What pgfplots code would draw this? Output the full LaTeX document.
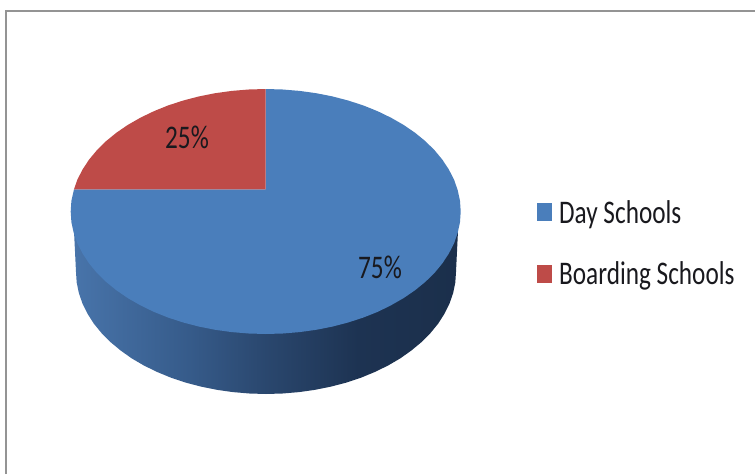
\documentclass[border=0pt]{standalone}
\usepackage{fontspec}
\setmainfont{Carlito}
\usepackage{graphicx}
\usepackage{pgfplots}
\pgfplotsset{compat=1.18}
\definecolor{dayblue}{RGB}{74,126,187}
\definecolor{boardred}{RGB}{190,75,72}
\definecolor{txt}{RGB}{25,25,30}
\definecolor{sa}{RGB}{72,116,170}
\definecolor{sb}{RGB}{54,91,138}
\definecolor{sc}{RGB}{42,71,110}
\definecolor{sd}{RGB}{29,51,82}
\definecolor{se}{RGB}{27,47,75}
\pgfdeclarehorizontalshading{sidesh}{100bp}{
color(0bp)=(sa);
color(25bp)=(sa);
color(40bp)=(sb);
color(50bp)=(sc);
color(62bp)=(sd);
color(75bp)=(se);
color(100bp)=(se)}
\begin{document}
\begin{tikzpicture}
\useasboundingbox (0,0) rectangle (755pt,474pt);
\begin{axis}[
  at={(0,0)},anchor=south west,
  width=755pt,height=474pt,scale only axis,
  xmin=0,xmax=755,ymin=0,ymax=474,y dir=reverse,
  hide axis,clip=false,
  legend style={at={(axis cs:537,198)},anchor=north west,draw=none,fill=none,
    font=\fontsize{33}{34}\selectfont\color{txt},
    row sep=33pt,inner xsep=0pt,inner ysep=0pt,
    nodes={inner sep=2pt,anchor=west}},
  legend cell align=left,
  legend image code/.code={\fill[#1] (0pt,-9pt) rectangle (15pt,9pt);},
]
% frame
\addplot[forget plot,draw=black!42,line width=2.2pt,mark=none] coordinates {(6,474) (6,11) (755,11)};
% side wall
\addplot[forget plot,draw=none,shading=sidesh,mark=none] coordinates {
(74,231) (76,272) (76.7,282.6) (78.9,293.2) (82.5,303.6) (87.5,313.7) (93.8,323.6) (101.5,333)
(110.4,342) (120.5,350.4) (131.6,358.3) (143.9,365.5) (157,371.9) (171,377.7) (185.7,382.6)
(201,386.6) (216.8,389.8) (233,392.1) (249.4,393.5) (266,394) (282.6,393.5) (299,392.1)
(315.2,389.8) (331,386.6) (346.3,382.6) (361,377.7) (375,371.9) (388.1,365.5) (400.4,358.3)
(411.5,350.4) (421.6,342) (430.5,333) (438.2,323.6) (444.5,313.7) (449.5,303.6) (453.1,293.2)
(455.3,282.6) (456,272) (458,231) (265,200)} --cycle;
% Day Schools, 75%
\addplot[draw=none,fill=dayblue,mark=none] coordinates {
(265.7,189.3) (265.7,89) (282.7,89.5) (299.6,90.9) (316.2,93.2) (332.4,96.4) (348.1,100.5)
(363.2,105.4) (377.6,111.2) (391,117.7) (403.6,124.9) (415.1,132.8) (425.4,141.2) (434.6,150.3)
(442.4,159.7) (448.9,169.6) (454.1,179.8) (457.7,190.2) (460,200.8) (460.7,211.5)
(460,222.2) (457.7,232.8) (454.1,243.2) (448.9,253.4) (442.4,263.3) (434.6,272.8) (425.4,281.8)
(415.1,290.2) (403.6,298.1) (391,305.3) (377.6,311.9) (363.2,317.6) (348.1,322.5) (332.4,326.6)
(316.2,329.8) (299.6,332.1) (282.7,333.5) (265.7,334) (248.7,333.5) (231.8,332.1) (215.2,329.8)
(199,326.6) (183.3,322.5) (168.2,317.6) (153.9,311.9) (140.4,305.3) (127.8,298.1) (116.3,290.2)
(106,281.8) (96.8,272.8) (89,263.3) (82.5,253.4) (77.3,243.2) (73.7,232.8) (71.4,222.2)
(70.7,211.5) (71.4,200.8) (74,189.3)} --cycle;
\addlegendentry{\hspace{5pt}\scalebox{0.765}[1]{Day Schools}}
% Boarding Schools, 25%
\addplot[draw=none,fill=boardred,mark=none] coordinates {
(265.7,189.3) (74,189.3) (77.3,179.8) (82.5,169.6) (89,159.7) (96.8,150.3) (106,141.2)
(116.3,132.8) (127.8,124.9) (140.4,117.7) (153.9,111.2) (168.2,105.4) (183.3,100.5) (199,96.4)
(215.2,93.2) (231.8,90.9) (248.7,89.5) (265.7,89)} --cycle;
\addlegendentry{\hspace{5pt}\scalebox{0.765}[1]{Boarding Schools}}
\node[font=\fontsize{33}{34}\selectfont,text=txt] at (axis cs:187,137) {\scalebox{0.765}[1]{25\%}};
\node[font=\fontsize{33}{34}\selectfont,text=txt] at (axis cs:380,267) {\scalebox{0.765}[1]{75\%}};
\end{axis}
\end{tikzpicture}
\end{document}
